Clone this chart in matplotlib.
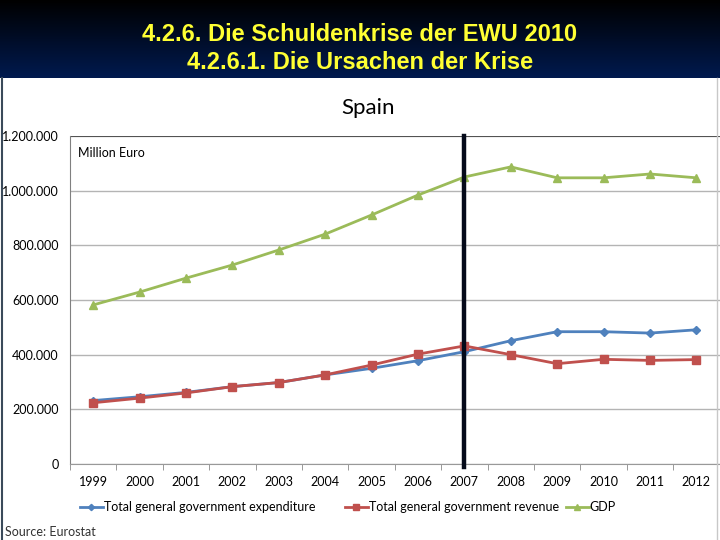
import numpy as np
import matplotlib
matplotlib.use('Agg')
import matplotlib.pyplot as plt
from matplotlib.ticker import FuncFormatter, MultipleLocator
from matplotlib.lines import Line2D

years = ['1999', '2000', '2001', '2002', '2003', '2004', '2005', '2006',
         '2007', '2008', '2009', '2010', '2011', '2012']
expenditure = [232, 246, 262, 283, 298, 326, 350, 378, 411, 451, 484, 484, 479, 491]
revenue = [224, 241, 260, 283, 298, 326, 362, 402, 432, 400, 367, 383, 379, 382]
gdp = [582, 629, 680, 728, 783, 841, 911, 984, 1050, 1087, 1047, 1047, 1061, 1047]
expenditure = [v * 1000 for v in expenditure]
revenue = [v * 1000 for v in revenue]
gdp = [v * 1000 for v in gdp]
crisis_year = '2007'

W, H = 720, 540
FONT = 'Lato'
fig = plt.figure(figsize=(W / 100, H / 100), dpi=100)
fig.patch.set_facecolor('white')

# header band with dark gradient
hdr = fig.add_axes([0, 1 - 78 / H, 1, 78 / H])
grad = np.linspace(0, 1, 100).reshape(-1, 1)
cmap = matplotlib.colors.LinearSegmentedColormap.from_list('hdr', ['#000000', '#001a4f'])
hdr.imshow(grad, aspect='auto', cmap=cmap, extent=[0, 1, 0, 1], origin='upper')
hdr.set_axis_off()
hdr.text(0.5, 0.56, '4.2.6. Die Schuldenkrise der EWU 2010', color='#ffff33',
         ha='center', va='center', fontsize=17, fontweight='bold', family='Liberation Sans')
hdr.text(0.5, 0.2, '4.2.6.1. Die Ursachen der Krise', color='#ffff33',
         ha='center', va='center', fontsize=17, fontweight='bold', family='Liberation Sans')

# slide borders
fig.add_artist(Line2D([2 / W, 2 / W], [0, 1 - 78 / H], color='#3a4a5a', lw=1.5))
fig.add_artist(Line2D([717 / W, 717 / W], [0, 1 - 78 / H], color='#c8c8c8', lw=1))

ax = fig.add_axes([70 / W, (H - 464) / H, 649.6 / W, 328 / H])
x = np.arange(len(years))
l1, = ax.plot(x, expenditure, color='#4f81bd', marker='D', markersize=4, lw=2)
l2, = ax.plot(x, revenue, color='#c0504d', marker='s', markersize=6, lw=2)
l3, = ax.plot(x, gdp, color='#9bbb59', marker='^', markersize=6, lw=2)

ci = years.index(crisis_year)
ax.plot([ci, ci], [-12000, 1200000], color='#050a1a', lw=3.2, clip_on=False, zorder=5)

ax.set_xlim(-0.5, len(years) - 0.5)
ax.set_ylim(0, 1200000)
ax.yaxis.set_major_locator(MultipleLocator(200000))
ax.yaxis.set_major_formatter(FuncFormatter(lambda v, p: f'{int(v):,}'.replace(',', '.')))
ax.set_xticks(x)
ax.set_xticklabels(years)
ax.set_xticks(np.arange(-0.5, len(years), 1), minor=True)
ax.tick_params(axis='x', which='major', length=0, pad=9, labelsize=9)
ax.tick_params(axis='x', which='minor', length=4, color='#888888')
ax.tick_params(axis='y', length=0, pad=8, labelsize=9)
for lbl in ax.get_xticklabels() + ax.get_yticklabels():
    lbl.set_family(FONT)
ax.grid(axis='y', color='#b4b4b4', lw=1)
ax.set_axisbelow(True)
for s in ['top', 'right']:
    ax.spines[s].set_visible(False)
ax.spines['left'].set_color('#808080')
ax.spines['bottom'].set_color('#999999')
ax.axhline(1200000, color='#404040', lw=1.2)

ax.text(0.013, 0.965, 'Million Euro', transform=ax.transAxes, fontsize=9,
        family=FONT, va='top', ha='left')
fig.text(368 / W, 1 - 108 / H, 'Spain', fontsize=16, family=FONT,
         ha='center', va='center')

# legend entries placed one by one, like the Excel legend
entries = [(l1, 'Total general government expenditure', 80),
           (l2, 'Total general government revenue', 345),
           (l3, 'GDP', 566)]
for handle, text, xpos in entries:
    fig.legend([handle], [text], loc='center left', bbox_to_anchor=(xpos / W, 1 - 507 / H),
               frameon=False, prop={'family': FONT, 'size': 9}, handlelength=1.8,
               handletextpad=0.1, borderaxespad=0, borderpad=0, markerscale=0.8)

fig.text(5 / W, 1 - 532 / H, 'Source: Eurostat', fontsize=9, family=FONT,
         color='#333333', ha='left', va='center')

fig.savefig('out.png', dpi=100)
